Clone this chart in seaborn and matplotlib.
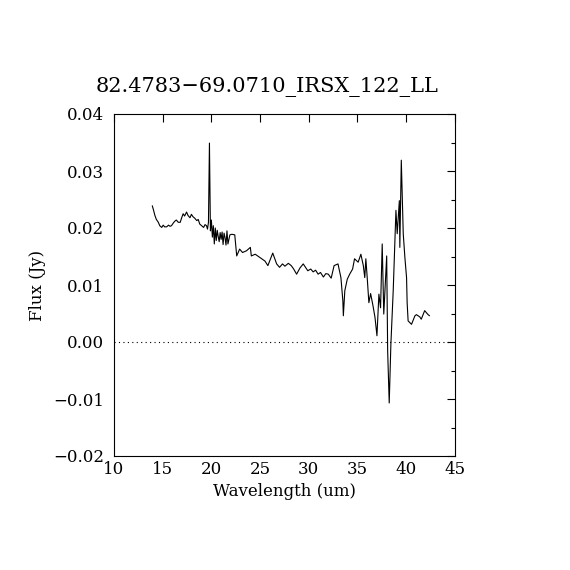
import seaborn as sns
import matplotlib.pyplot as plt
import pandas as pd
from matplotlib.ticker import MultipleLocator

# spectrum
wavelength = [
    13.93, 14.05, 14.2, 14.35, 14.55, 14.7, 14.9, 15.05, 15.2, 15.4, 15.6, 15.75, 15.9,
    16.1, 16.25, 16.4, 16.6, 16.8, 16.95, 17.1, 17.25, 17.45, 17.6, 17.8, 17.95, 18.1,
    18.3, 18.5, 18.65, 18.8, 19.0, 19.2, 19.35, 19.5, 19.6, 19.7, 19.8, 19.9, 20.0,
    20.1, 20.2, 20.3, 20.4, 20.5, 20.6, 20.7, 20.8, 20.9, 21.0, 21.1, 21.2, 21.3,
    21.4, 21.5, 21.6, 21.7, 21.9, 22.1, 22.4, 22.6, 22.9, 23.2, 23.6, 24.0, 24.1,
    24.5, 25.0, 25.5, 25.8, 26.3, 26.7, 27.0, 27.3, 27.55, 27.9, 28.2, 28.45, 28.75,
    29.1, 29.43, 29.9, 30.2, 30.45, 30.7, 30.96, 31.2, 31.5, 31.75, 32.0, 32.3, 32.6,
    33.0, 33.3, 33.5, 33.55, 33.7, 33.95, 34.2, 34.5, 34.7, 35.07, 35.35, 35.6, 35.75,
    35.86, 36.0, 36.17, 36.35, 36.6, 36.8, 37.0, 37.2, 37.37, 37.54, 37.7, 38.0, 38.1,
    38.26, 38.43, 38.67, 38.95, 39.08, 39.3, 39.35, 39.5, 39.7, 39.87, 40.04, 40.1,
    40.2, 40.55, 40.9, 41.05, 41.4, 41.55, 41.9, 42.25, 42.4,
]
flux = [
    0.0239, 0.0232, 0.0222, 0.0215, 0.0210, 0.0204, 0.0201, 0.0205, 0.0202, 0.0202, 0.0205, 0.0203, 0.0204,
    0.0209, 0.0212, 0.0214, 0.0210, 0.0210, 0.0218, 0.0225, 0.0221, 0.0228, 0.0222, 0.0218, 0.0224, 0.0220,
    0.0217, 0.0213, 0.0215, 0.0207, 0.0204, 0.0201, 0.0206, 0.0204, 0.0198, 0.0210, 0.0349, 0.0195, 0.0214,
    0.0184, 0.0204, 0.0172, 0.0200, 0.0178, 0.0196, 0.0185, 0.0176, 0.0192, 0.0180, 0.0193, 0.0171, 0.0191,
    0.0183, 0.0170, 0.0195, 0.0172, 0.0188, 0.0189, 0.0188, 0.0151, 0.0163, 0.0157, 0.0160, 0.0166, 0.0151,
    0.0154, 0.0148, 0.0142, 0.0134, 0.0156, 0.0137, 0.0131, 0.0137, 0.0133, 0.0138, 0.0134, 0.0128, 0.0119,
    0.0130, 0.0137, 0.0125, 0.0128, 0.0123, 0.0126, 0.0119, 0.0122, 0.0114, 0.0120, 0.0119, 0.0112, 0.0134,
    0.0137, 0.0113, 0.0072, 0.0046, 0.0090, 0.0110, 0.0119, 0.0128, 0.0146, 0.0140, 0.0154, 0.0134, 0.0113,
    0.0146, 0.0113, 0.0069, 0.0085, 0.0063, 0.0043, 0.0011, 0.0084, 0.0060, 0.0172, 0.0049, 0.0151, -0.0016,
    -0.0107, -0.0004, 0.0090, 0.0231, 0.0190, 0.0248, 0.0166, 0.0319, 0.0190, 0.0148, 0.0113, 0.0069,
    0.0037, 0.0031, 0.0046, 0.0048, 0.0044, 0.0040, 0.0055, 0.0048, 0.0046,
]

df = pd.DataFrame({"Wavelength": wavelength, "Flux": flux})

sns.set_style("white")
plt.rcParams["font.family"] = ["DejaVu Serif"]
plt.rcParams["text.color"] = "black"
plt.rcParams["axes.labelcolor"] = "black"
plt.rcParams["xtick.color"] = "black"
plt.rcParams["ytick.color"] = "black"

fig = plt.figure(figsize=(5.7, 5.7), dpi=100)
ax = fig.add_axes([0.2, 0.2, 0.598, 0.6])

sns.lineplot(data=df, x="Wavelength", y="Flux", color="black", linewidth=0.8,
             sort=False, estimator=None, ax=ax)
ax.axhline(0, color="black", linestyle=(0, (1, 3)), linewidth=0.8)

ax.set_xlim(10, 45)
ax.set_ylim(-0.02, 0.04)
ax.xaxis.set_major_locator(MultipleLocator(5))
ax.yaxis.set_major_locator(MultipleLocator(0.01))
ax.yaxis.set_minor_locator(MultipleLocator(0.005))
ax.yaxis.set_major_formatter(plt.FuncFormatter(lambda v, p: f"{v:.2f}".replace("-", "\u2212")))
ax.tick_params(which="both", direction="in", top=True, right=True, labelsize=12,
               color="black", labelcolor="black")
ax.tick_params(which="major", length=6, width=0.8)
ax.tick_params(axis="y", which="major", pad=7)
ax.tick_params(which="minor", length=3, width=0.8)
for s in ax.spines.values():
    s.set_color("black")
    s.set_linewidth(0.8)

ax.set_xlabel("Wavelength (um)", fontsize=12, color="black")
ax.set_ylabel("Flux (Jy)", fontsize=12, color="black", labelpad=5)
ax.set_title("82.4783\u221269.0710_IRSX_122_LL", fontsize=15, pad=16, color="black", x=0.45)

fig.savefig("out.png", dpi=100, facecolor="white")
plt.close(fig)
